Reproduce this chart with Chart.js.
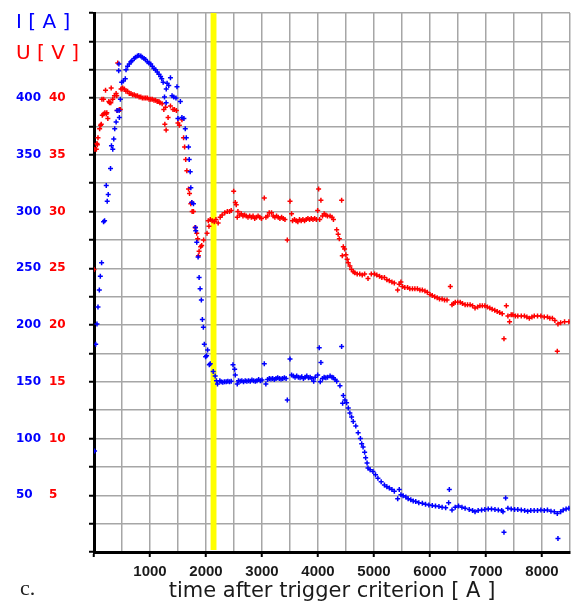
<!DOCTYPE html>
<html>
<head>
<meta charset="utf-8">
<script src="https://cdn.jsdelivr.net/npm/chart.js@4.4.1/dist/chart.umd.min.js"></script>
<style>
  html, body { margin: 0; padding: 0; background: #fff; }
  #wrap { width: 576px; height: 607px; position: relative; }
</style>
</head>
<body>
<div id="wrap"><canvas id="arcChart"></canvas></div>
<script>
// current I [A], pairs of [time, amps]
const currentRise = [[10,89],[30,183],[53,201],[71,216],[95,231],[113,243],[136,255],[171,291],[189,292],[219,323],[236,309],[254,315],[295,338],[312,358],[335,355],[353,364],[370,373],[395,379],[413,389],[448,389],[453,383],[471,399],[441,424],[445,430]];
const currentPeak = [[494,414],[524,415],[559,417],[572,425],[600,428],[630,430],[660,432],[677,433],[718,435],[740,436],[776,437],[800,437.5],[836,437],[860,436],[894,435],[920,434],[953,432],[980,431],[1013,430],[1040,428],[1071,426],[1100,425],[1129,423],[1160,421],[1189,419],[1210,417],[1235,414]];
const currentFall = [[1259,401],[1288,396],[1290,408],[1305,413],[1335,411],[1365,418],[1394,402],[1424,401],[1464,400],[1482,410],[1542,397],[1499,382],[1570,383],[1605,382],[1630,373],[1648,365],[1688,357],[1700,346],[1718,335],[1729,321],[1746,308],[1776,307],[1812,286],[1817,283],[1835,273],[1859,260],[1877,242],[1895,232],[1917,222],[1935,205],[1953,198],[1970,183],[1993,172],[2011,173],[2029,178],[2059,165],[2076,166],[2129,159],[2164,155],[2187,151],[2205,148],[2247,151]];
const currentPlateau = [[2270,150],[2300,149.5],[2330,150],[2360,150],[2390,150.5],[2420,150],[2450,150.5],[2482,165],[2512,161],[2523,156],[2558,148],[2580,151],[2610,150.5],[2640,151],[2670,150],[2700,151],[2730,150.5],[2760,151],[2790,150.5],[2820,151.5],[2850,151],[2880,150.5],[2910,151],[2940,152],[2970,151],[3000,151.5],[3041,166],[3069,148],[3100,152],[3130,153],[3160,152.5],[3190,153],[3220,152],[3250,153],[3280,153.5],[3310,153],[3340,152.5],[3370,153],[3400,153.5],[3430,153],[3452,134],[3500,170],[3528,156],[3560,155],[3590,154],[3620,155],[3650,154],[3680,153.5],[3710,154.5],[3740,153],[3770,154],[3800,155],[3830,153.5],[3860,154],[3890,153],[3923,150.5],[3950,154],[3994,156],[4022,180],[4040,150],[4052,167],[4080,153],[4110,154],[4140,153.5],[4170,154],[4216,155],[4250,154],[4276,153.5],[4305,152],[4334,150.5],[4392,146.5],[4422,181]];
const currentDecay = [[4440,131],[4452,138],[4481,134],[4511,131.5],[4541,127],[4569,122.5],[4600,119],[4629,115],[4675,111],[4717,105],[4757,100],[4780,95.5],[4805,92.5],[4833,88],[4851,83],[4876,78.5],[4893,74],[4931,72.5],[4981,71],[5027,68],[5070,65],[5128,62],[5186,59],[5230,57.5],[5274,56.5],[5320,55],[5363,53.5],[5423,47],[5451,55],[5481,50.5],[5520,49.5],[5569,48.5],[5610,47],[5657,46],[5700,45],[5745,44.5],[5800,43.5],[5863,43],[5920,42],[5980,41.5],[6040,41],[6098,40.5],[6160,40],[6216,39.5],[6280,39],[6333,43.5],[6345,55],[6393,37],[6450,39.5],[6509,40.5],[6570,39.5],[6627,38.5],[6700,37.5],[6760,36.5],[6804,35.5],[6860,36.5],[6922,37],[6980,37.5],[7040,38],[7098,38],[7160,37.5],[7220,37],[7280,36.5],[7303,35.5],[7321,17.5],[7351,47.5],[7391,38.5],[7450,38],[7510,37.5],[7568,37.5],[7630,37],[7690,36.5],[7744,36],[7800,36.5],[7860,36.5],[7920,36.5],[7980,37],[8040,36.5],[8097,37],[8160,36],[8220,35.5],[8273,34],[8285,12],[8333,35.5],[8380,37],[8430,38],[8480,38.5]];

// voltage U [V], pairs of [time, volts]
const voltageRise = [[0,24.9],[12,35.5],[42,35.5],[53,36],[60,35.9],[71,36.5],[101,37.3],[118,37.6],[130,37.7],[141,39.9],[148,38.5],[171,38.6],[171,39.9],[194,38.7],[206,40.7],[219,38.6],[229,38.7],[247,38.2],[265,39.7],[277,39.6],[300,39.6],[307,40.9],[335,39.9],[365,40.2],[395,40.4],[406,40.2],[413,38.9],[424,43.1],[453,39],[471,39]];
const voltagePeak = [[483,40.8],[501,40.8],[512,40.9],[542,40.8],[570,40.6],[600,40.6],[630,40.4],[660,40.4],[688,40.3],[718,40.3],[747,40.2],[776,40.2],[806,40.1],[836,40.1],[864,40],[894,40],[924,40],[953,40],[983,39.9],[1013,39.9],[1041,39.9],[1071,39.8],[1100,39.8],[1129,39.7],[1159,39.7],[1177,39.6],[1217,39.5],[1247,39],[1277,39.2]];
const voltageFall = [[1265,37.7],[1288,37.2],[1323,38.3],[1365,39.3],[1411,39],[1436,39],[1471,38.9],[1499,37.8],[1524,37.6],[1570,38.1],[1600,36.5],[1618,35.7],[1638,34.6],[1658,33.6],[1688,32],[1706,31.6],[1729,30.7],[1746,30.8],[1753,30],[1776,30],[1806,28.6],[1812,28.6],[1835,28.1],[1852,27.6],[1865,26.1],[1877,26.5],[1905,26.9],[1923,27],[1958,27.5],[2018,28.1],[2041,29.2],[2053,28.7],[2076,29.3],[2110,29.2],[2147,29.1],[2177,29.3],[2217,29],[2253,29.5],[2288,29.7],[2335,29.9],[2381,30]];
const voltagePlateau = [[2420,30],[2450,30.1],[2494,31.8],[2523,30.8],[2540,30.6],[2558,29.5],[2570,30],[2600,29.7],[2630,29.8],[2660,29.6],[2690,29.7],[2720,29.6],[2750,29.5],[2780,29.6],[2810,29.5],[2840,29.6],[2870,29.4],[2900,29.5],[2930,29.6],[2960,29.5],[2990,29.4],[3041,31.2],[3070,29.5],[3100,29.6],[3129,29.9],[3170,29.9],[3200,29.6],[3230,29.5],[3260,29.6],[3290,29.5],[3320,29.4],[3350,29.5],[3380,29.4],[3410,29.3],[3452,27.5],[3500,30.9],[3528,29.8],[3545,29.2],[3580,29.3],[3610,29.2],[3640,29.1],[3670,29.3],[3700,29.2],[3730,29.3],[3760,29.2],[3790,29.3],[3820,29.4],[3850,29.3],[3880,29.4],[3910,29.3],[3940,29.4],[3970,29.3],[3994,30.1],[4011,32],[4030,29.3],[4052,31],[4080,29.6],[4110,29.8],[4140,29.7],[4170,29.6],[4216,29.6],[4250,29.5],[4276,29.3]];
const voltageDecay = [[4334,28.4],[4360,28],[4381,27.6],[4422,31],[4434,26.1],[4452,26.9],[4475,26.7],[4498,26.2],[4520,25.8],[4540,25.5],[4570,25.2],[4599,24.9],[4630,24.7],[4657,24.6],[4700,24.5],[4745,24.5],[4790,24.4],[4833,24.5],[4893,24.1],[4952,24.5],[5010,24.5],[5050,24.4],[5098,24.3],[5140,24.2],[5186,24.2],[5230,24],[5274,23.9],[5320,23.8],[5363,23.7],[5422,23.1],[5450,23.6],[5481,23.8],[5510,23.4],[5550,23.3],[5599,23.3],[5640,23.2],[5687,23.2],[5730,23.2],[5775,23.2],[5820,23.1],[5863,23.1],[5910,23],[5952,22.9],[6000,22.7],[6040,22.6],[6085,22.5],[6128,22.4],[6170,22.3],[6216,22.3],[6260,22.2],[6304,22.2],[6363,23.4],[6393,21.8],[6420,21.9],[6451,22],[6495,22],[6539,22],[6580,21.9],[6627,21.8],[6670,21.8],[6716,21.8],[6760,21.7],[6804,21.5],[6850,21.6],[6892,21.7],[6935,21.7],[6980,21.7],[7025,21.6],[7068,21.5],[7110,21.4],[7156,21.3],[7200,21.2],[7244,21.1],[7290,21],[7321,18.8],[7363,21.7],[7391,20.8],[7421,20.3],[7450,20.9],[7480,20.9],[7525,20.8],[7568,20.8],[7630,20.8],[7686,20.8],[7730,20.7],[7774,20.6],[7820,20.7],[7862,20.8],[7920,20.8],[7980,20.8],[8040,20.7],[8097,20.7],[8140,20.6],[8185,20.6],[8230,20.4],[8273,17.7],[8285,20.1],[8333,20.2],[8403,20.3],[8480,20.3]];

// trigger window (yellow band), in time units
const triggerBand = [2082, 2187];

const currentPoints = [].concat(currentRise, currentPeak, currentFall, currentPlateau, currentDecay);
const voltagePoints = [].concat(voltageRise, voltagePeak, voltageFall, voltagePlateau, voltageDecay);

const gridGrey = '#a6a6a6';

const markerPlugin = {
    id: 'marker',
    beforeDatasetsDraw(chart) {
        const {ctx, chartArea, scales} = chart;
        const x0 = scales.x.getPixelForValue(triggerBand[0]);
        const x1 = scales.x.getPixelForValue(triggerBand[1]);
        ctx.save();
        ctx.fillStyle = '#ffff00';
        ctx.fillRect(x0, chartArea.top, x1 - x0, chartArea.bottom - chartArea.top - 2);
        ctx.restore();
    },
    afterDraw(chart) {
        const ctx = chart.ctx;
        ctx.save();
        ctx.textBaseline = 'middle';
        ctx.font = '20px "DejaVu Sans"';
        ctx.fillStyle = '#0000ff';
        ctx.fillText('I [ A ]', 16, 23);
        ctx.fillStyle = '#ff0000';
        ctx.fillText('U [ V ]', 16, 54);
        ctx.fillStyle = '#222';
        ctx.font = '22px "Liberation Serif"';
        ctx.fillText('c.', 20, 589);
        ctx.restore();
    }
};

const ctx = document.getElementById('arcChart').getContext('2d');

new Chart(ctx, {
    type: 'scatter',
    data: {
        datasets: [{
            label: 'I [A]',
            data: currentPoints,
            yAxisID: 'yI',
            borderColor: '#0000ff',
            backgroundColor: '#0000ff',
            pointStyle: 'cross',
            pointRadius: 2.5,
            pointBorderWidth: 1.5
        }, {
            label: 'U [V]',
            data: voltagePoints,
            yAxisID: 'yU',
            borderColor: '#ff0000',
            backgroundColor: '#ff0000',
            pointStyle: 'cross',
            pointRadius: 2.5,
            pointBorderWidth: 1.5
        }]
    },
    options: {
        responsive: true,
        maintainAspectRatio: false,
        animation: false,
        layout: {
            padding: { left: 16, top: 13, right: 0, bottom: 0 }
        },
        plugins: {
            legend: { display: false },
            tooltip: { enabled: false }
        },
        scales: {
            x: {
                type: 'linear',
                min: 0,
                max: 8500,
                ticks: {
                    stepSize: 500,
                    autoSkip: false,
                    maxRotation: 0,
                    padding: 6,
                    color: '#1a1a1a',
                    font: { family: 'Liberation Sans', size: 15, weight: 'bold' },
                    callback: v => (v > 0 && v % 1000 === 0) ? String(v) : ''
                },
                grid: {
                    color: gridGrey,
                    lineWidth: 1.5,
                    tickLength: 5,
                    tickWidth: 2,
                    tickColor: c => (c.tick && c.tick.value % 1000 === 0) ? '#000' : 'rgba(0,0,0,0)'
                },
                border: { color: '#000', width: 3 },
                title: {
                    display: true,
                    text: 'time after trigger criterion [ A ]',
                    color: '#1a1a1a',
                    font: { family: 'DejaVu Sans', size: 21 },
                    padding: { top: 0, bottom: 3 }
                },
                afterFit: s => { s.height = 55; }
            },
            yU: {
                position: 'left',
                weight: 1,
                min: 0,
                max: 47.5,
                ticks: {
                    stepSize: 2.5,
                    autoSkip: false,
                    crossAlign: 'far',
                    color: '#ff0000',
                    font: { family: 'DejaVu Sans', size: 12, weight: 'bold' },
                    callback: v => {
                        const r = Math.round(v * 10) / 10;
                        return (r > 0 && r < 45 && r % 5 === 0) ? String(r) : '';
                    }
                },
                grid: {
                    color: gridGrey,
                    lineWidth: 1.5,
                    tickLength: 5,
                    tickWidth: 2,
                    tickColor: '#000'
                },
                border: { color: '#000', width: 3 },
                afterFit: s => { s.width = 45; }
            },
            yI: {
                position: 'left',
                weight: 2,
                min: 0,
                max: 475,
                ticks: {
                    stepSize: 25,
                    autoSkip: false,
                    crossAlign: 'far',
                    color: '#0000ff',
                    font: { family: 'DejaVu Sans', size: 12, weight: 'bold' },
                    callback: v => (v > 0 && v < 450 && v % 50 === 0) ? String(v) : ''
                },
                grid: { display: false },
                border: { display: false },
                afterFit: s => { s.width = 33; }
            }
        }
    },
    plugins: [markerPlugin]
});
</script>
</body>
</html>
